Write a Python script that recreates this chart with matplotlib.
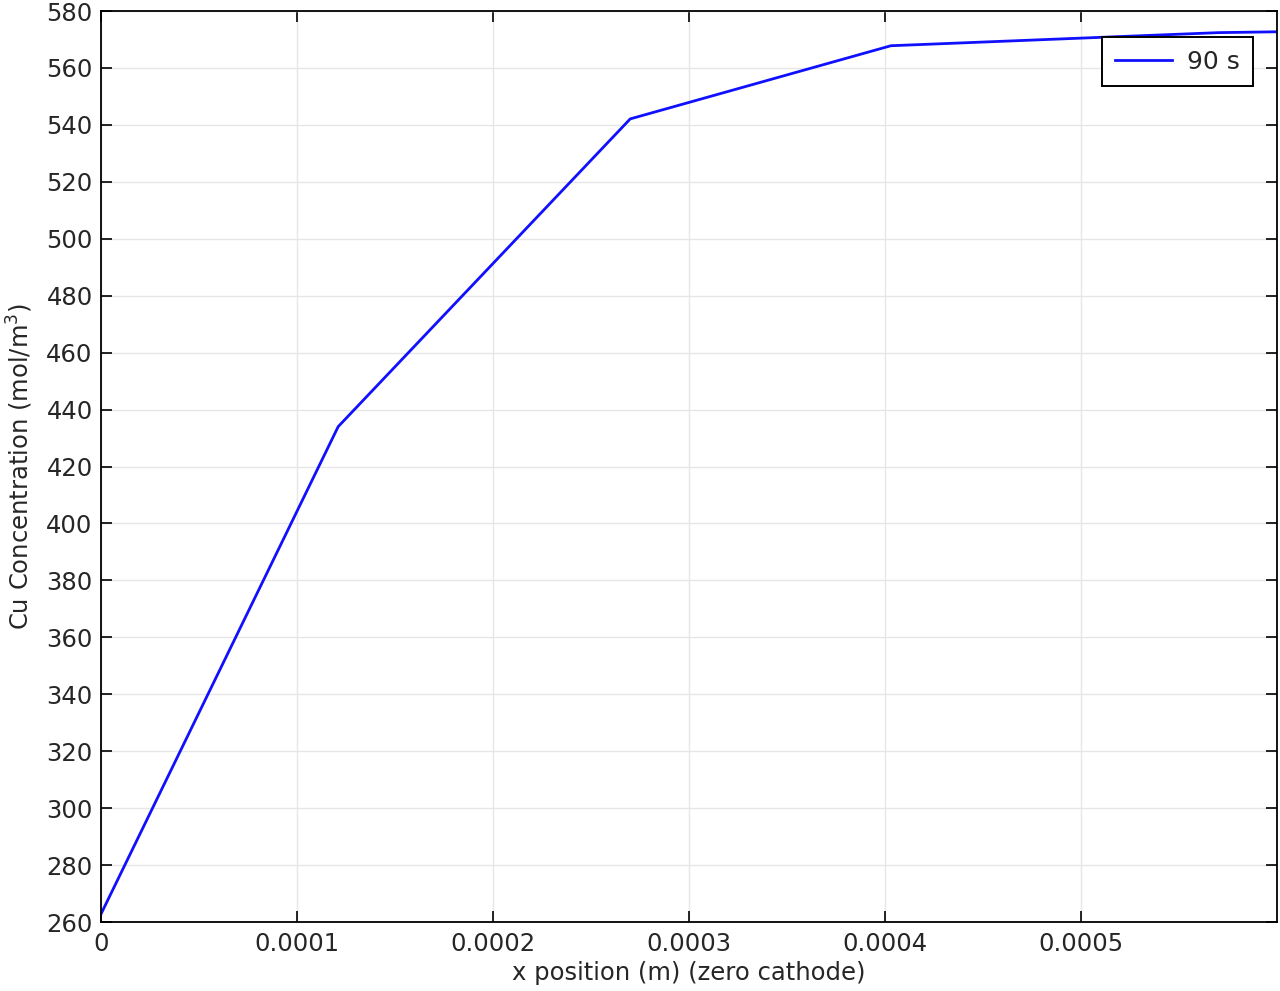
import matplotlib
matplotlib.use("Agg")
import matplotlib.pyplot as plt

x_pos = [0.0, 0.000121, 0.000270, 0.000403, 0.000570, 0.000600]
cu_conc = [262.8, 434.0, 542.1, 567.8, 572.4, 572.7]
series_label = "90 s"
x_ticks = [0, 0.0001, 0.0002, 0.0003, 0.0004, 0.0005]
x_tick_labels = ["0", "0.0001", "0.0002", "0.0003", "0.0004", "0.0005"]
y_ticks = list(range(260, 581, 20))

text_col = "#262626"

fig = plt.figure(figsize=(12.8, 9.91), dpi=100)
ax = fig.add_axes([0.0789, 0.0696, 0.9188, 0.9193])

ax.plot(x_pos, cu_conc, color="#1010ff", lw=2.0, label=series_label)

ax.set_xlim(0, 0.0006)
ax.set_ylim(260, 580)
ax.set_xticks(x_ticks)
ax.set_xticklabels(x_tick_labels)
ax.set_yticks(y_ticks)
ax.grid(True, color="#e6e6e6", lw=1.0)
ax.set_axisbelow(True)
ax.tick_params(direction="in", top=True, right=True, length=8, width=1.2,
               labelsize=17.5, colors="black", labelcolor=text_col)
ax.tick_params(axis="x", pad=7)
ax.tick_params(axis="y", pad=6)
for s in ax.spines.values():
    s.set_linewidth(1.3)

ax.set_xlabel("x position (m) (zero cathode)", fontsize=17.5, labelpad=4, color=text_col)
ax.set_ylabel("Cu Concentration (mol/m$^3$)", fontsize=17.5, labelpad=8, color=text_col)

leg = ax.legend(loc="upper right", bbox_to_anchor=(0.9792, 0.9714),
                bbox_transform=ax.transAxes, borderaxespad=0,
                fontsize=18, fancybox=False, framealpha=1,
                edgecolor="black", handlelength=2.3, borderpad=0.5,
                handletextpad=0.6)
leg.get_frame().set_linewidth(1.4)
for t in leg.get_texts():
    t.set_color(text_col)

fig.savefig("out.png", dpi=100)
